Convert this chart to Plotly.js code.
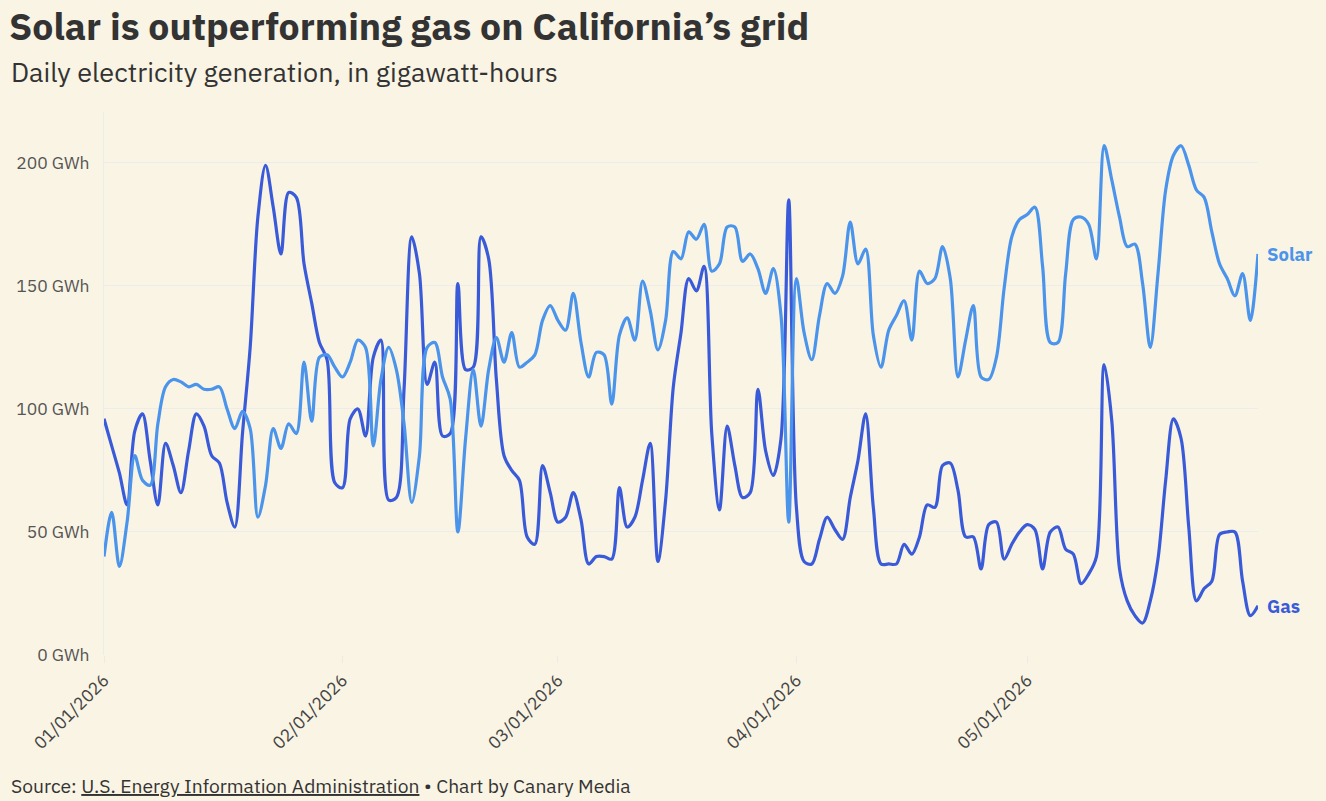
<!DOCTYPE html>
<html>
<head>
<meta charset="utf-8">
<script src="https://cdn.plot.ly/plotly-3.0.1.min.js"></script>
<style>
  html, body { margin: 0; padding: 0; background: #faf4e4; }
  #chart { width: 1326px; height: 801px; }
</style>
</head>
<body>
<div id="chart"></div>
<script>
// Daily generation, GWh, 01/01/2026 .. 05/31/2026
const startDate = "2026-01-01";
const solarGWh = [
  40, 58, 36, 54, 81, 71, 69, 94, 109, 112,
  111, 109, 110, 108, 108, 109, 100, 92, 99, 92,
  56, 69, 92, 84, 94, 90, 119, 95, 121, 122,
  117, 113, 119, 128, 125, 85, 112, 125, 116, 94,
  62, 81, 125, 127, 113, 104, 50, 88, 116, 93,
  116, 129, 119, 131, 117, 119, 122, 136, 142, 136,
  132, 147, 127, 113, 123, 122, 102, 130, 137, 128,
  152, 140, 124, 136, 164, 161, 172, 169, 175, 156,
  159, 174, 174, 160, 163, 157, 147, 157, 138, 54,
  153, 131, 120, 138, 151, 147, 154, 176, 159, 165,
  130, 117, 132, 138, 144, 128, 156, 151, 153, 166,
  153, 113, 128, 142, 113, 112, 121, 149, 170, 177,
  179, 182, 158, 127, 127, 155, 177, 178, 175, 161,
  207, 193, 178, 166, 167, 151, 125, 155, 189, 203,
  207, 199, 189, 186, 172, 159, 153, 146, 155, 136,
  163
];
const gasGWh = [
  96, 85, 74, 61, 91, 98, 79, 61, 86, 77,
  66, 83, 98, 93, 81, 78, 62, 52, 90, 125,
  178, 199, 182, 163, 188, 186, 159, 143, 127, 120,
  70, 68, 96, 100, 89, 121, 128, 63, 64, 108,
  170, 155, 110, 119, 89, 90, 151, 116, 117, 170,
  161, 112, 81, 75, 71, 48, 45, 77, 66, 54,
  56, 66, 55, 37, 40, 40, 39, 68, 52, 56,
  71, 86, 38, 63, 109, 131, 153, 148, 158, 90,
  59, 93, 77, 64, 66, 108, 83, 73, 88, 185,
  60, 38, 37, 47, 56, 51, 47, 64, 79, 98,
  60, 37, 37, 37, 45, 41, 48, 61, 60, 77,
  78, 67, 48, 48, 35, 53, 54, 39, 45, 50,
  53, 51, 35, 50, 52, 43, 41, 29, 33, 40,
  118, 95, 35, 22, 16, 13, 22, 39, 71, 96,
  88, 52, 22, 27, 30, 49, 50, 50, 30, 16,
  20
];
const yTickValues = [0, 50, 100, 150, 200];
const yTickLabels = ["0 GWh", "50 GWh", "100 GWh", "150 GWh", "200 GWh"];
const xTickValues = ["2026-01-01", "2026-02-01", "2026-03-01", "2026-04-01", "2026-05-01"];
const xTickLabels = ["01/01/2026", "02/01/2026", "03/01/2026", "04/01/2026", "05/01/2026"];
const seriesNames = ["Solar", "Gas"];

// build the day list from the start date
function dayList(start, n) {
  const out = [];
  const d0 = new Date(start + "T00:00:00Z");
  for (let i = 0; i < n; i++) {
    const d = new Date(d0.getTime() + i * 86400000);
    out.push(d.toISOString().slice(0, 10));
  }
  return out;
}
const days = dayList(startDate, solarGWh.length);
const lastDay = days[days.length - 1];

const solarColor = "#4b94ec";
const gasColor = "#3a5bd9";
const textFont = "'IBM Plex Sans', 'Noto Sans', 'Open Sans', sans-serif";

const traces = [
  {
    x: days, y: gasGWh, name: seriesNames[1], type: "scatter", mode: "lines",
    line: { color: gasColor, width: 3.2, shape: "spline", smoothing: 0.9 },
    hoverinfo: "skip"
  },
  {
    x: days, y: solarGWh, name: seriesNames[0], type: "scatter", mode: "lines",
    line: { color: solarColor, width: 3.2, shape: "spline", smoothing: 0.9 },
    hoverinfo: "skip"
  }
];

const lastSolar = solarGWh[solarGWh.length - 1];
const lastGas = gasGWh[gasGWh.length - 1];

const layout = {
  width: 1326, height: 801,
  paper_bgcolor: "#faf4e4", plot_bgcolor: "#faf4e4",
  margin: { l: 103.5, r: 68, t: 112, b: 146, pad: 0 },
  showlegend: false,
  font: { family: textFont, color: "#444" },
  title: {
    text: "<b>Solar is outperforming gas on California’s grid</b>",
    font: { family: textFont, size: 37.4, color: "#333333" },
    xref: "container", yref: "container",
    x: 9 / 1326, xanchor: "left",
    y: 1 - 27 / 801, yanchor: "middle"
  },
  xaxis: {
    type: "date",
    range: [startDate, lastDay],
    tickmode: "array",
    tickvals: xTickValues,
    ticktext: xTickLabels,
    tickangle: -45,
    ticks: "outside", ticklen: 7, tickcolor: "#ebebe6", tickwidth: 1,
    showgrid: false, zeroline: false, showline: false,
    tickfont: { family: textFont, size: 17.5, color: "#444" },
    fixedrange: true
  },
  yaxis: {
    range: [0, 220.7],
    tickmode: "array",
    tickvals: yTickValues,
    ticktext: yTickLabels,
    showgrid: true, gridcolor: "#ecedea", gridwidth: 1,
    zeroline: false,
    showline: true, linecolor: "#ecedea", linewidth: 1,
    ticks: "", ticklabelstandoff: 10,
    tickfont: { family: textFont, size: 17.5, color: "#555" },
    fixedrange: true
  },
  shapes: [
    { type: "line", xref: "x", yref: "y", xsizemode: "pixel", xanchor: lastDay,
      x0: 1, x1: 6, y0: lastSolar, y1: lastSolar, line: { color: solarColor, width: 1 } },
    { type: "line", xref: "x", yref: "y", xsizemode: "pixel", xanchor: lastDay,
      x0: 1, x1: 6, y0: lastGas, y1: lastGas, line: { color: gasColor, width: 1 } }
  ],
  annotations: [
    { xref: "x", yref: "y", x: lastDay, y: lastSolar, xanchor: "left", yanchor: "middle",
      xshift: 7, showarrow: false, text: "<b>" + seriesNames[0] + "</b>",
      font: { family: textFont, size: 18.5, color: solarColor } },
    { xref: "x", yref: "y", x: lastDay, y: lastGas, xanchor: "left", yanchor: "middle",
      xshift: 7, showarrow: false, text: "<b>" + seriesNames[1] + "</b>",
      font: { family: textFont, size: 18.5, color: gasColor } },
    { xref: "paper", yref: "paper", x: (8 - 103.5) / 1154.5, y: (655 - 72) / 543,
      xanchor: "left", yanchor: "middle", showarrow: false,
      text: "Daily electricity generation, in gigawatt-hours",
      font: { family: textFont, size: 27, color: "#333" } },
    { xref: "paper", yref: "paper", x: (8 - 103.5) / 1154.5, y: (655 - 785) / 543,
      xanchor: "left", yanchor: "middle", showarrow: false,
      text: "Source: <u>U.S. Energy Information Administration</u> • Chart by Canary Media",
      font: { family: textFont, size: 19.3, color: "#333" } }
  ]
};

Plotly.newPlot("chart", traces, layout, { displayModeBar: false, staticPlot: true });
</script>
</body>
</html>
